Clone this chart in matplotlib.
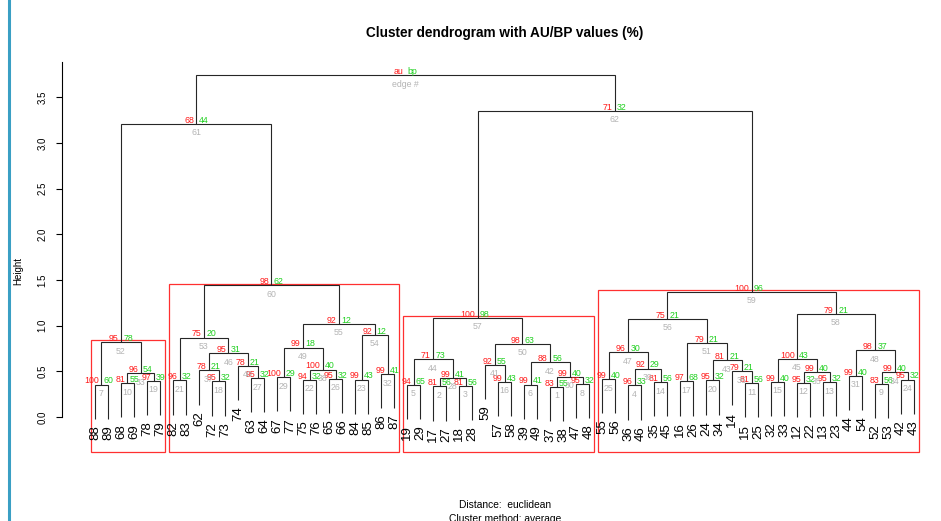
import matplotlib.pyplot as plt
from matplotlib.patches import Rectangle

plt.rcParams['font.family'] = ['Liberation Sans', 'DejaVu Sans']

# leaf order along the x axis
leaf_order = ["88", "89", "68", "69", "78", "79",
              "82", "83", "62", "72", "73", "74", "63", "64", "67", "77", "75", "76",
              "65", "66", "84", "85", "86", "87",
              "19", "29", "17", "27", "18", "28", "59", "57", "58", "39", "49", "37",
              "38", "47", "48",
              "55", "56", "36", "46", "35", "45", "16", "26", "24", "34", "14", "15",
              "25", "32", "33", "12", "22", "13", "23", "44", "54", "52", "53", "42", "43"]

# merges, one per edge number (edge k is entry k-1); str = leaf, int = edge
merge_left = ["37", "17", "18", "36", "19", "39", "88", "47", "52", "68",
              "15", "12", "13", "35", "32", "57", "16", "72", "78", "24",
              "82", "75", "84", "42", "55", "65", "63", 2, "67", 1,
              "44", "86", 10, 9, 12, "14", "62", 22, 4, "74",
              "59", 6, 20, 5, 15, 37, 25, 31, 29, 41,
              17, 7, 21, 23, 49, 47, 44, 45, 56, 53,
              52, 57, 61]
merge_right = ["38", "27", "28", "46", "29", "49", "89", "48", "53", "69",
               "25", "22", "23", "45", "33", "58", "26", "73", "79", "34",
               "83", "76", "85", "43", "56", "66", "64", 3, "77", 8,
               "54", "87", 19, 24, 13, 11, 18, 26, 14, 27,
               16, 30, 36, 28, 35, 40, 39, 34, 38, 42,
               43, 33, 46, 32, 54, 51, 50, 48, 58, 55,
               60, 59, 62]
heights = [0.33, 0.335, 0.34, 0.345, 0.35, 0.355, 0.355, 0.36, 0.365, 0.37,
           0.37, 0.375, 0.38, 0.38, 0.385, 0.385, 0.39, 0.39, 0.395, 0.40,
           0.40, 0.405, 0.41, 0.41, 0.415, 0.42, 0.425, 0.43, 0.435, 0.44,
           0.45, 0.47, 0.48, 0.49, 0.49, 0.50, 0.51, 0.52, 0.53, 0.56,
           0.57, 0.60, 0.62, 0.63, 0.635, 0.70, 0.71, 0.73, 0.76, 0.80,
           0.81, 0.82, 0.87, 0.90, 1.02, 1.075, 1.085, 1.13, 1.37, 1.44,
           3.21, 3.35, 3.74]
au = [83, 81, 81, 96, 94, 99, 100, 95, 83, 81,
      81, 95, 95, 81, 99, 99, 97, 95, 97, 95,
      96, 94, 99, 95, 99, 95, 95, 99, 100, 99,
      99, 99, 96, 99, 99, 79, 78, 100, 92, 78,
      92, 88, 81, 71, 100, 95, 96, 98, 99, 98,
      79, 95, 75, 92, 92, 75, 100, 79, 100, 98,
      68, 71]
bp = [55, 56, 56, 33, 65, 41, 60, 32, 56, 55,
      56, 32, 32, 56, 40, 43, 68, 32, 39, 32,
      32, 32, 43, 32, 40, 32, 32, 41, 29, 40,
      40, 41, 54, 40, 40, 21, 21, 40, 29, 21,
      55, 56, 21, 73, 43, 31, 30, 37, 18, 63,
      21, 78, 20, 12, 12, 21, 98, 21, 96, 62,
      44, 32]

AU_COL, BP_COL, EDGE_COL = '#ff1a1a', '#1fd01f', '#b4b4b4'
LINE_COL = '#262626'

W, H = 941, 521
fig = plt.figure(figsize=(W / 100, H / 100), dpi=100)

# plot region in pixels: x 62..930, y 61.7 (top) .. 480 (bottom)
x_px0, x_px1 = 62, 930
y_top_px, y_bot_px = 61.7, 480
ax = fig.add_axes([x_px0 / W, 1 - y_bot_px / H, (x_px1 - x_px0) / W, (y_bot_px - y_top_px) / H])

unit_x = 13.0
ymax = 3.89
unit_y = (417 - y_top_px) / ymax
ax.set_xlim(1 - (95 - x_px0) / unit_x, 64 + (x_px1 - 914) / unit_x)
ax.set_ylim(-(y_bot_px - 417) / unit_y, ymax)

pos = {name: i + 1 for i, name in enumerate(leaf_order)}
hang = 0.1 * max(heights)
node_x = {}
members = {}


def child_xy(child, h):
    if isinstance(child, str):
        return pos[child], h - hang
    return node_x[child], heights[child - 1]


for k, h in enumerate(heights):
    edge = k + 1
    a, b = merge_left[k], merge_right[k]
    xa, ya = child_xy(a, h)
    xb, yb = child_xy(b, h)
    ax.plot([xa, xa, xb, xb], [ya, h, h, yb], color=LINE_COL, lw=0.8,
            solid_capstyle='butt', solid_joinstyle='miter')
    node_x[edge] = (xa + xb) / 2
    members[edge] = []
    for c, xc, yc in ((a, xa, ya), (b, xb, yb)):
        if isinstance(c, str):
            members[edge].append(c)
            ax.text(xc, yc - 0.07, c, rotation=90, ha='center', va='top',
                    fontsize=9.5, color='black')
        else:
            members[edge] += members[c]

# au / bp / edge numbers at every node
for k in range(len(au)):
    x, h = node_x[k + 1], heights[k]
    ax.annotate(str(au[k]), (x, h), xytext=(-1.6, 2.6), textcoords='offset points',
                ha='right', va='center', fontsize=6.3, color=AU_COL)
    ax.annotate(str(bp[k]), (x, h), xytext=(1.6, 2.6), textcoords='offset points',
                ha='left', va='center', fontsize=6.3, color=BP_COL)
    ax.annotate(str(k + 1), (x, h), xytext=(0, -3.2), textcoords='offset points',
                ha='center', va='top', fontsize=6.3, color=EDGE_COL)

root_x, root_h = node_x[len(heights)], heights[-1]
ax.annotate('au', (root_x, root_h), xytext=(-1.6, 2.6), textcoords='offset points',
            ha='right', va='center', fontsize=6.3, color=AU_COL)
ax.annotate('bp', (root_x, root_h), xytext=(1.6, 2.6), textcoords='offset points',
            ha='left', va='center', fontsize=6.3, color=BP_COL)
ax.annotate('edge #', (root_x, root_h), xytext=(0, -3.2), textcoords='offset points',
            ha='center', va='top', fontsize=6.3, color=EDGE_COL)

# rectangles around the largest clusters with au >= 95
drawn = []
for k in range(len(au) - 1, -1, -1):
    edge = k + 1
    if au[k] < 95:
        continue
    if any(set(members[edge]) <= set(members[d]) for d in drawn):
        continue
    drawn.append(edge)
    idx = [pos[m] for m in members[edge]]
    x0, x1 = min(idx) - 0.33, max(idx) + 0.4
    top = heights[k] + 0.02
    bottom = -0.38
    ax.add_patch(Rectangle((x0, bottom), x1 - x0, top - bottom, fill=False,
                           edgecolor='#ff3030', lw=0.9, clip_on=False))

for s in ('top', 'right', 'bottom'):
    ax.spines[s].set_visible(False)
ax.spines['left'].set_bounds(0, ymax)
ax.spines['left'].set_linewidth(0.8)
ax.set_xticks([])
ax.set_yticks([0, 0.5, 1.0, 1.5, 2.0, 2.5, 3.0, 3.5])
ax.set_yticklabels(['0.0', '0.5', '1.0', '1.5', '2.0', '2.5', '3.0', '3.5'],
                   rotation=90, va='center', fontsize=7)
ax.tick_params(axis='y', length=4.5, width=0.8, pad=6)
ax.set_ylabel('Height', fontsize=7, labelpad=10)

fig.text(505 / W, 1 - 33 / H, 'Cluster dendrogram with AU/BP values (%)',
         ha='center', va='center', fontsize=9.8, fontweight='bold')
fig.text(505 / W, 1 - 505 / H, 'Distance:  euclidean', ha='center', va='center', fontsize=7.4)
fig.text(505 / W, 1 - 519 / H, 'Cluster method: average', ha='center', va='center', fontsize=7.4)

# frame line on the left edge
fig.add_artist(plt.Line2D([9 / W, 9 / W], [0, 1], color='#3a9fc4', lw=2.2))

fig.savefig('out.png', dpi=100)
